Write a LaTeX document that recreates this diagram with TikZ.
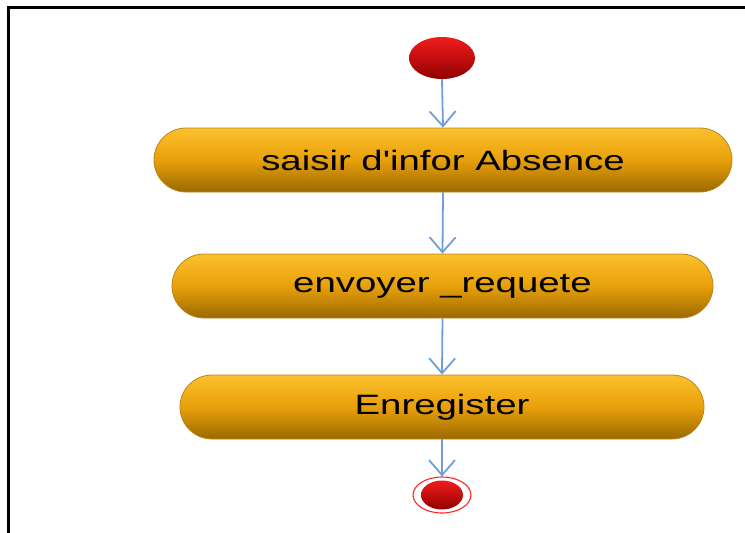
\documentclass[tikz,border=0pt]{standalone}
\usepackage{fontspec}
\setmainfont{Liberation Sans}
\usetikzlibrary{arrows.meta,shapes.geometric}
\definecolor{goldtop}{RGB}{252,192,45}
\definecolor{goldmid}{RGB}{232,160,10}
\definecolor{goldbot}{RGB}{155,105,0}
\definecolor{goldline}{RGB}{185,135,25}
\definecolor{redtop}{RGB}{242,28,28}
\definecolor{redbot}{RGB}{145,0,0}
\definecolor{arrowblue}{RGB}{112,158,214}
\tikzset{
  activity/.style={rectangle, rounded corners=32pt, draw=goldline, line width=0.8pt,
    top color=goldtop, bottom color=goldbot, middle color=goldmid,
    minimum height=64pt, inner sep=0pt, font=\fontsize{28}{30}\selectfont},
  startnode/.style={ellipse, draw=none, top color=redtop, bottom color=redbot,
    minimum width=66pt, minimum height=42pt, inner sep=0pt},
  endring/.style={ellipse, draw=red!85!white, line width=1.1pt, fill=white,
    minimum width=58pt, minimum height=36pt, inner sep=0pt},
  endcore/.style={ellipse, draw=none, top color=redtop, bottom color=redbot,
    minimum width=42pt, minimum height=29pt, inner sep=0pt},
  flow/.style={draw=arrowblue, line width=1.8pt,
    -{Straight Barb[length=15pt,width=26pt,line width=1.8pt]}}
}
\newcommand{\wide}[1]{\scalebox{1.37}[1]{#1}}
\begin{document}
\begin{tikzpicture}[x=1pt,y=1pt,yscale=-1]
\useasboundingbox (0,0) rectangle (745,533);
\draw[line width=2.6pt] (8.5,533) -- (8.5,7.5) -- (745,7.5);
\node[startnode] (start) at (442,58) {};
\node[activity, minimum width=578pt] (a1) at (443,160) {\wide{saisir d\textquotesingle infor Absence}};
\node[activity, minimum width=541pt] (a2) at (442.5,286) {\wide{envoyer \_requete}};
\node[activity, minimum width=524pt] (a3) at (442,407) {\wide{Enregister}};
\node[endring] (endr) at (442,495) {};
\node[endcore] (endc) at (442,495) {};
\draw[flow] (start.south) -- (a1.north);
\draw[flow] (a1.south) -- (a2.north);
\draw[flow] (a2.south) -- (a3.north);
\draw[flow] (a3.south) -- (endr.north);
\end{tikzpicture}
\end{document}
